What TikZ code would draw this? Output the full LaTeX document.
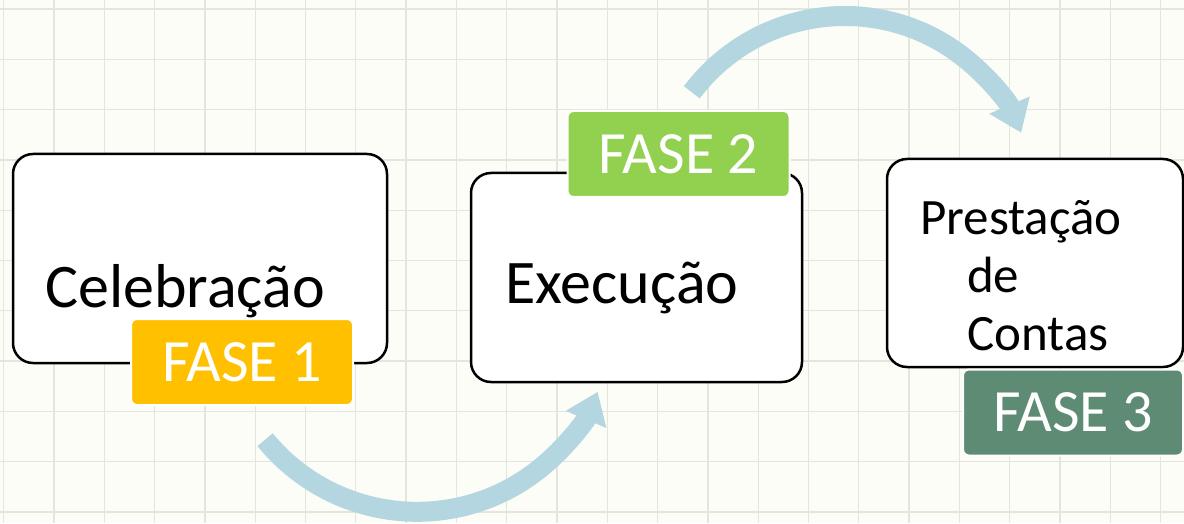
\documentclass[tikz,border=0pt]{standalone}
\usepackage{fontspec}
\setmainfont{Carlito}
\usetikzlibrary{arrows.meta}
\usetikzlibrary{positioning}
\definecolor{faseum}{HTML}{FFC000}
\definecolor{fasedois}{HTML}{92D050}
\definecolor{fasetres}{HTML}{5E8B74}
\definecolor{seta}{HTML}{B4D6E0}
\definecolor{papel}{HTML}{FCFDF7}
\definecolor{grade}{HTML}{E4E5DE}

\begin{document}
\begin{tikzpicture}[x=1pt,y=1pt]
		\tikzset{
			etapa/.style={draw=black, line width=2.5pt, fill=white, rounded corners=20pt,
				minimum width=#1, minimum height=209pt, inner sep=0pt},
			fase/.style={draw=white, line width=2pt, rounded corners=6pt, text=white,
				minimum width=222pt, minimum height=86pt, inner sep=0pt,
				font=\fontsize{60}{72}\selectfont},
			rotulo/.style={anchor=base west, inner sep=0pt, font=\fontsize{62}{74}\selectfont},
			fluxo/.style={draw=seta, line width=20pt, -{Triangle[width=42pt,length=30pt]}}
		}
		% fundo quadriculado
		\fill[papel] (0,0) rectangle (1184,523);
		\useasboundingbox (0,0) rectangle (1184,523);
		\foreach \i in {0,...,23}
			\draw[grade, line width=1.3pt] ({3.7+50.3*\i},0) -- ++(0,523);
		\foreach \j in {0,...,10}
			\draw[grade, line width=1.3pt] (0,{514-50.3*\j}) -- ++(1184,0);
		% setas
		\coordinate (inicioum) at (265.1,83.3);
		\draw[fluxo] (inicioum) arc[start angle=-140.8, end angle=-22.8, radius=196];
		\coordinate (iniciodois) at (691.8,430.7);
		\draw[fluxo] (iniciodois) arc[start angle=143, end angle=23, radius=191.6];
		% fases
		\node[etapa=374pt] (celebracao) at (200,264.5) {};
		\node[rotulo] (txtcelebracao) at (45,216) {Celebração};
		\node[fase, fill=faseum] (fase1) at (242,161) {FASE 1};
		\node[etapa=331pt] (execucao) at (636.5,245.5) {};
		\node[rotulo] (txtexecucao) at (505,220) {Execução};
		\node[fase, fill=fasedois] (fase2) at (678.5,369) {FASE 2};
		\node[etapa=296pt, minimum height=208pt] (prestacao) at (1035,260) {};
		\node[rotulo, font=\fontsize{51}{60}\selectfont] (txtprestacao) at (920,288) {Prestação};
		\node[rotulo, font=\fontsize{51}{60}\selectfont] (txtde) at (967,231) {de};
		\node[rotulo, font=\fontsize{51}{60}\selectfont] (txtcontas) at (967,173) {Contas};
		\node[fase, fill=fasetres, minimum width=220pt] (fase3) at (1073,110.5) {FASE 3};
	\end{tikzpicture}
\end{document}
